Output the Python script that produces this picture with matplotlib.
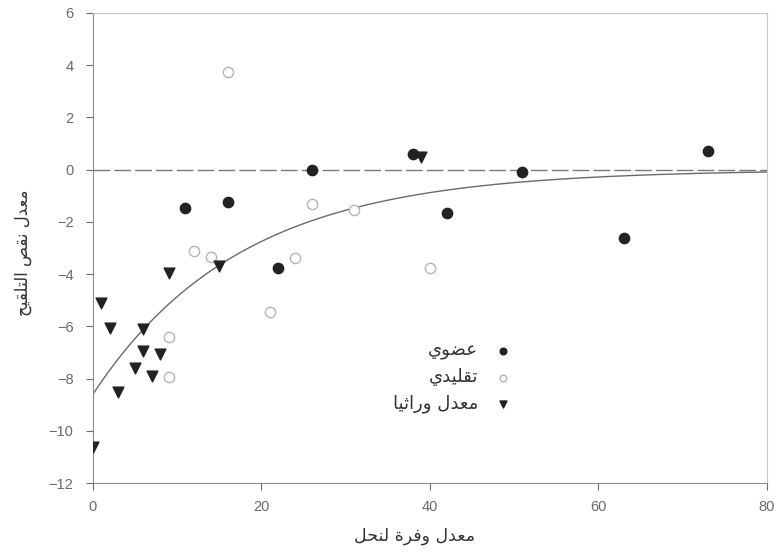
import matplotlib
matplotlib.use("Agg")
import matplotlib.pyplot as plt
import numpy as np

# organic farms
organic_x = [11, 16, 26, 22, 38, 42, 51, 63, 73]
organic_y = [-1.45, -1.25, 0.0, -3.75, 0.6, -1.65, -0.1, -2.6, 0.7]

# conventional farms
conv_x = [16, 26, 31, 12, 14, 24, 21, 9, 9, 40]
conv_y = [3.75, -1.3, -1.55, -3.1, -3.35, -3.4, -5.45, -6.4, -7.95, -3.75]

# genetically modified
gm_x = [9, 15, 1, 2, 6, 6, 8, 5, 7, 3, 0, 39]
gm_y = [-3.95, -3.7, -5.1, -6.05, -6.1, -6.95, -7.05, -7.6, -7.9, -8.5, -10.6, 0.5]

# exponential trend y = a * exp(-b * x)
fit_a = -8.6
fit_b = 0.057

labels = ["عضوي", "تقليدي", "معدل وراثيا"]
xlabel = "معدل وفرة لنحل"
ylabel = "معدل نقص التلقيح"

# (isolated, final, initial, medial)
FORMS = {
    "ا": (0xFE8D, 0xFE8E, None, None),
    "ة": (0xFE93, 0xFE94, None, None),
    "ت": (0xFE95, 0xFE96, 0xFE97, 0xFE98),
    "ث": (0xFE99, 0xFE9A, 0xFE9B, 0xFE9C),
    "ح": (0xFEA1, 0xFEA2, 0xFEA3, 0xFEA4),
    "د": (0xFEA9, 0xFEAA, None, None),
    "ر": (0xFEAD, 0xFEAE, None, None),
    "ص": (0xFEB9, 0xFEBA, 0xFEBB, 0xFEBC),
    "ض": (0xFEBD, 0xFEBE, 0xFEBF, 0xFEC0),
    "ع": (0xFEC9, 0xFECA, 0xFECB, 0xFECC),
    "ف": (0xFED1, 0xFED2, 0xFED3, 0xFED4),
    "ق": (0xFED5, 0xFED6, 0xFED7, 0xFED8),
    "ل": (0xFEDD, 0xFEDE, 0xFEDF, 0xFEE0),
    "م": (0xFEE1, 0xFEE2, 0xFEE3, 0xFEE4),
    "ن": (0xFEE5, 0xFEE6, 0xFEE7, 0xFEE8),
    "و": (0xFEED, 0xFEEE, None, None),
    "ي": (0xFEF1, 0xFEF2, 0xFEF3, 0xFEF4),
}


def shape(text):
    out = []
    for i, ch in enumerate(text):
        if ch not in FORMS:
            out.append(ch)
            continue
        prev = text[i - 1] if i > 0 else ""
        nxt = text[i + 1] if i + 1 < len(text) else ""
        join_prev = prev in FORMS and FORMS[prev][2] is not None
        join_next = FORMS[ch][2] is not None and nxt in FORMS
        iso, fin, ini, med = FORMS[ch]
        if join_prev and join_next:
            code = med
        elif join_prev:
            code = fin
        elif join_next:
            code = ini
        else:
            code = iso
        out.append(chr(code))
    return "".join(reversed(out))


plt.rcParams["font.family"] = ["Liberation Sans", "DejaVu Sans"]

fig = plt.figure(figsize=(7.8, 5.58), dpi=100)
ax = fig.add_axes([0.119, 0.134, 0.864, 0.843])

ax.axhline(0, color="#7a7a7a", lw=1.0, ls=(0, (12, 3)), zorder=1)

xs = np.linspace(0, 80, 300)
ax.plot(xs, fit_a * np.exp(-fit_b * xs), color="#6a6a6a", lw=1.0, zorder=2)

ax.scatter(organic_x, organic_y, s=55, marker="o", color="#222222",
           label=shape(labels[0]), zorder=4)
ax.scatter(conv_x, conv_y, s=55, marker="o", facecolor="white",
           edgecolor="#b5b5b5", lw=1.0, label=shape(labels[1]), zorder=3)
ax.scatter(gm_x, gm_y, s=60, marker="v", color="#222222",
           label=shape(labels[2]), zorder=4)

ax.set_xlim(0, 80)
ax.set_ylim(-12, 6)
ax.set_xticks([0, 20, 40, 60, 80])
ax.set_yticks(np.arange(-12, 7, 2))
ax.tick_params(labelsize=10.5, colors="#6a6a6a", length=5, width=0.8, pad=7)
ax.tick_params(axis="y", pad=9)

for side in ["left", "bottom"]:
    ax.spines[side].set_color("#8c8c8c")
for side in ["top", "right"]:
    ax.spines[side].set_color("#c8c8c8")

ax.set_xlabel(shape(xlabel), fontsize=12.5, color="#333333",
              family=["DejaVu Sans"])
ax.set_ylabel(shape(ylabel), fontsize=12, color="#333333",
              family=["DejaVu Sans"])
ax.xaxis.set_label_coords(0.478, -0.094)
ax.yaxis.set_label_coords(-0.09, 0.49)

leg = ax.legend(loc="center right", bbox_to_anchor=(0.66, 0.225),
                markerfirst=False, frameon=False, handletextpad=0.4,
                labelspacing=0.45, markerscale=0.65,
                prop={"family": "DejaVu Sans", "size": 13})
for t in leg.get_texts():
    t.set_color("#333333")

fig.savefig("out.png", dpi=100)
